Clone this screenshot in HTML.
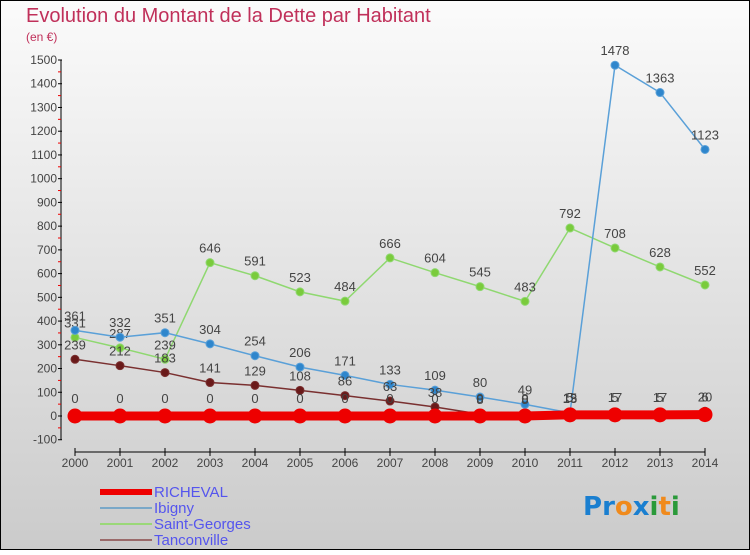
<!DOCTYPE html>
<html><head><meta charset="utf-8"><style>
html,body{margin:0;padding:0}
body{width:750px;height:550px;overflow:hidden;font-family:"Liberation Sans","DejaVu Sans",sans-serif}
</style></head><body>
<svg id="chart" width="750" height="550" xmlns="http://www.w3.org/2000/svg">
<defs>
<linearGradient id="bg" x1="0" y1="0" x2="0" y2="1"><stop offset="0" stop-color="#fbfbfb"/><stop offset="1" stop-color="#cbcbcb"/></linearGradient>
</defs>
<rect x="0.5" y="0.5" width="749" height="549" fill="url(#bg)" stroke="#000"/>
<text x="26" y="22" font-size="20" fill="#c0305a">Evolution du Montant de la Dette par Habitant</text>
<text x="26" y="41" font-size="12" fill="#c0305a">(en €)</text>
<g id="axes"></g>
<g id="series"></g>
<g id="legend"></g>
<g font-size="26" font-weight="bold" font-family="'DejaVu Sans',sans-serif">
<text x="583" y="515"><tspan fill="#1a7fd0">P</tspan><tspan fill="#1a7fd0">r</tspan><tspan fill="#f08a1c">o</tspan><tspan fill="#1a7fd0">x</tspan><tspan fill="#2a9a3a">i</tspan><tspan fill="#f08a1c">t</tspan><tspan fill="#2a9a3a">i</tspan></text>
</g>
</svg>
<script>
const years=[2000,2001,2002,2003,2004,2005,2006,2007,2008,2009,2010,2011,2012,2013,2014];
const richeval=[0,0,0,0,0,0,0,0,0,0,0,5,5,5,6];
const ibigny=[361,332,351,304,254,206,171,133,109,80,49,13,1478,1363,1123];
const saintGeorges=[331,287,239,646,591,523,484,666,604,545,483,792,708,628,552];
const tanconville=[239,212,183,141,129,108,86,63,38,8,8,15,17,17,20];
const yTicks=[-100,0,100,200,300,400,500,600,700,800,900,1000,1100,1200,1300,1400,1500];
const NS="http://www.w3.org/2000/svg";
const x=i=>75+i*45;
const y=v=>416-v*356/1500;
function mk(tag,attrs,parent,txt){const e=document.createElementNS(NS,tag);for(const k in attrs)e.setAttribute(k,attrs[k]);if(txt!==undefined)e.textContent=txt;parent.appendChild(e);return e;}
const ax=document.getElementById('axes');
let l=mk('line',{x1:61,y1:y(1500),x2:61,y2:y(-100),stroke:'#000'},ax);


yTicks.forEach(t=>{
 mk('line',{x1:58,x2:62,y1:y(t),y2:y(t),stroke:'#000'},ax);
 if(t<1500){mk('line',{x1:58,x2:61,y1:y(t+50),y2:y(t+50),stroke:'#e00'},ax);}
 const tx=mk('text',{x:57,y:y(t)+4,'text-anchor':'end','font-size':12,fill:'#444'},ax,t);
 
 
});
let xl=mk('line',{x1:75,x2:705,y1:452,y2:452,stroke:'#000'},ax);


years.forEach((yr,i)=>{
 mk('line',{x1:x(i),x2:x(i),y1:448,y2:456,stroke:'#000'},ax);
 const tx=mk('text',{x:x(i),y:467,'text-anchor':'middle','font-size':12,fill:'#444'},ax,yr);
 
 
});
const sg=document.getElementById('series');
function series(name,data,color,w,r,dot){
 const g=mk('g',{},sg);
 
 
 mk('polyline',{points:data.map((v,i)=>x(i)+','+y(v)).join(' '),fill:'none',stroke:color,'stroke-width':w},g);
 data.forEach((v,i)=>{
  const c=mk('circle',{cx:x(i),cy:y(v),r:r,fill:dot,stroke:color,'stroke-width':1},g);
  
  
  mk('text',{x:x(i),y:y(v)-(r+6),'text-anchor':'middle','font-size':13,fill:'#444'},g,v);
 });
}
series('saint-georges',saintGeorges,'#8fd870',1.5,4,'#7acb3c');
series('ibigny',ibigny,'#5aa0d8',1.5,4,'#2f86cc');
series('tanconville',tanconville,'#7a3030',1.5,4,'#6a1a1a');
series('richeval',richeval,'#ee0000',9,7,'#ee0000');
const lg=document.getElementById('legend');
[['RICHEVAL','#ee0000',6],['Ibigny','#7aa8c8',2],['Saint-Georges','#9ad878',2],['Tanconville','#9a6a6a',2]].forEach((e,i)=>{
 const g=mk('g',{},lg);
 
 
 const yy=492+i*16;
 mk('line',{x1:100,x2:152,y1:yy,y2:yy,stroke:e[1],'stroke-width':e[2]},g);
 mk('text',{x:154,y:yy+5,'font-size':15,fill:'#5555ee'},g,e[0]);
});
</script>
</body></html>
